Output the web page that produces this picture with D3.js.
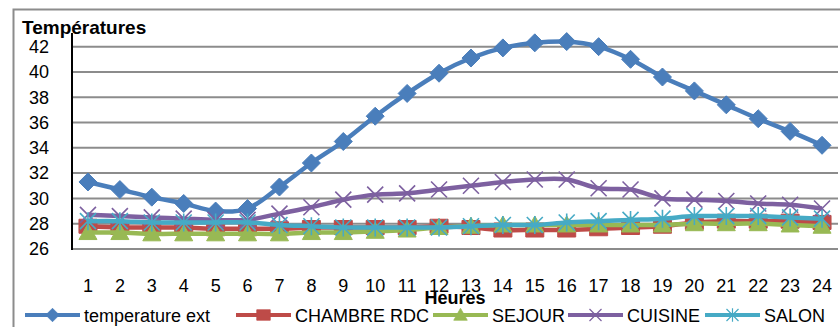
<!DOCTYPE html>
<html>
<head>
<meta charset="utf-8">
<script src="https://cdn.jsdelivr.net/npm/d3@7"></script>
<style>
  body { margin: 0; background: #fff; }
  svg { display: block; font-family: "Liberation Sans", Arial, sans-serif; }
  .tick text { font-size: 18px; fill: #000; }
  .grid line { stroke: #8c8c8c; stroke-width: 2; }
  .leg text { font-size: 18px; }
</style>
</head>
<body>
<div id="chart-area"></div>
<script>
// Données
var heures = d3.range(1, 25);
var yTicks = [26, 28, 30, 32, 34, 36, 38, 40, 42];

var tempExt  = [31.3, 30.7, 30.1, 29.6, 29.0, 29.2, 30.9, 32.8, 34.5, 36.5, 38.3, 39.9, 41.1, 41.9, 42.3, 42.4, 42.0, 41.0, 39.6, 38.5, 37.4, 36.3, 35.3, 34.2];
var chambre  = [27.8, 27.7, 27.7, 27.7, 27.6, 27.6, 27.6, 27.7, 27.7, 27.7, 27.7, 27.8, 27.7, 27.5, 27.5, 27.5, 27.6, 27.7, 27.8, 28.1, 28.2, 28.2, 28.2, 28.1];
var sejour   = [27.3, 27.3, 27.2, 27.2, 27.2, 27.2, 27.2, 27.3, 27.3, 27.4, 27.5, 27.7, 27.8, 27.9, 27.9, 27.9, 27.9, 27.9, 27.9, 28.0, 28.0, 28.0, 27.9, 27.8];
var cuisine  = [28.7, 28.6, 28.5, 28.4, 28.3, 28.3, 28.8, 29.3, 29.9, 30.3, 30.4, 30.7, 31.0, 31.3, 31.5, 31.5, 30.8, 30.7, 30.0, 29.9, 29.8, 29.6, 29.5, 29.2];
var salon    = [28.2, 28.2, 28.1, 28.1, 28.1, 28.1, 27.9, 27.8, 27.7, 27.7, 27.7, 27.7, 27.8, 27.9, 27.9, 28.1, 28.2, 28.3, 28.4, 28.6, 28.6, 28.6, 28.5, 28.4];

var series = [
  {name: "temperature ext", values: tempExt, color: "#4a7ebb", marker: "diamond"},
  {name: "CHAMBRE RDC", values: chambre, color: "#be4b48", marker: "square"},
  {name: "SEJOUR", values: sejour, color: "#98b954", marker: "triangle"},
  {name: "CUISINE", values: cuisine, color: "#7d60a0", marker: "x"},
  {name: "SALON", values: salon, color: "#46aac5", marker: "star"}
];

var W = 840, H = 327;
var plot = {left: 72, right: 838, top: 34, bottom: 249};

var svg = d3.select("#chart-area").append("svg")
    .attr("width", W).attr("height", H);

// cadre du graphique
svg.append("rect")
    .attr("x", 13.5).attr("y", 9.5)
    .attr("width", 900).attr("height", 400)
    .attr("fill", "none").attr("stroke", "#8c8c8c").attr("stroke-width", 2);

var xScale = d3.scaleBand()
    .domain(heures)
    .range([plot.left, plot.right]);

var yScale = d3.scaleLinear()
    .domain([26, 43])
    .range([plot.bottom, plot.top]);

var xc = function(d, i){ return xScale(heures[i]) + xScale.bandwidth() / 2; };

// grille
svg.append("g").attr("class", "grid")
  .selectAll("line").data(yTicks).enter().append("line")
    .attr("x1", plot.left).attr("x2", plot.right)
    .attr("y1", function(d){ return yScale(d); })
    .attr("y2", function(d){ return yScale(d); });

// Axes
var leftAxis = d3.axisLeft(yScale).tickValues(yTicks).tickSize(0).tickPadding(23);
var gy = svg.append("g").attr("transform", "translate(" + plot.left + ",0)").call(leftAxis);
gy.select(".domain").remove();
gy.append("line")
    .attr("x1", 0).attr("x2", 0)
    .attr("y1", plot.top - 1).attr("y2", plot.bottom + 1)
    .attr("stroke", "#000").attr("stroke-width", 2);

var bottomAxis = d3.axisBottom(xScale).tickSize(0).tickPadding(30);
var gx = svg.append("g").attr("transform", "translate(0," + plot.bottom + ")").call(bottomAxis);
gx.select(".domain").remove();

// Marqueurs
function markerPath(type) {
  switch (type) {
    case "diamond": return "M0,-9L9,0L0,9L-9,0Z";
    case "square": return "M-9,-7H9V7H-9Z";
    case "triangle": return "M0,-9L9,7H-9Z";
    case "x": return "M-8,-8L8,8M-8,8L8,-8";
    case "star": return "M-8,-8L8,8M-8,8L8,-8M0,-9V9";
  }
}
function drawMarker(sel, s) {
  var filled = s.marker !== "x" && s.marker !== "star";
  sel.attr("d", markerPath(s.marker))
     .attr("fill", filled ? s.color : "none")
     .attr("stroke", s.color)
     .attr("stroke-width", filled ? 1 : 1.6);
}

var line = d3.line()
    .x(xc)
    .y(function(d){ return yScale(d); })
    .curve(d3.curveCatmullRom.alpha(0.5));

series.forEach(function(s){
  var g = svg.append("g");
  g.append("path")
      .attr("d", line(s.values))
      .attr("fill", "none")
      .attr("stroke", s.color)
      .attr("stroke-width", 4.5)
      .attr("stroke-linejoin", "round");
  g.selectAll("path.m").data(s.values).enter().append("path")
      .attr("class", "m")
      .attr("transform", function(d, i){ return "translate(" + xc(d, i) + "," + yScale(d) + ")"; })
      .call(drawMarker, s);
});

// Titres
svg.append("text")
    .text("Températures")
    .attr("x", 22).attr("y", 34)
    .attr("font-size", 19).attr("font-weight", "bold");

svg.append("text")
    .text("Heures")
    .attr("x", (plot.left + plot.right) / 2).attr("y", 304)
    .attr("text-anchor", "middle")
    .attr("font-size", 18).attr("font-weight", "bold");

// Légende
var legStart = [25, 236, 433, 568, 705];
var leg = svg.append("g").attr("class", "leg");
series.forEach(function(s, i){
  var g = leg.append("g").attr("transform", "translate(" + legStart[i] + ",315)");
  g.append("line").attr("x1", 0).attr("x2", 55)
      .attr("stroke", s.color).attr("stroke-width", 4);
  g.append("path").attr("transform", "translate(27.5,0) scale(0.75)")
      .call(drawMarker, s);
  g.append("text").text(s.name)
      .attr("x", 59).attr("y", 7);
});
</script>
</body>
</html>
